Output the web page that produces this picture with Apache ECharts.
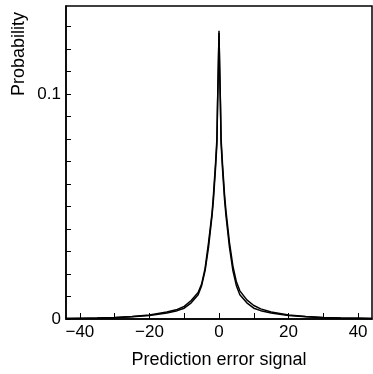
<!DOCTYPE html>
<html>
<head>
<meta charset="utf-8">
<script src="https://cdn.jsdelivr.net/npm/echarts@6/dist/echarts.min.js"></script>
<style>
  html, body { margin: 0; padding: 0; background: #fff; }
  #chart { width: 373px; height: 374px; }
</style>
</head>
<body>
<div id="chart"></div>
<script>
// prediction error values (x) and probabilities
var errors = [-44, -40, -35, -30, -25, -20, -15, -12, -10, -8, -6, -5, -4, -3, -2, -1.6, -1, -0.6, -0.4, -0.2, 0,
              0.2, 0.4, 0.6, 1, 1.6, 2, 3, 4, 5, 6, 8, 10, 12, 15, 20, 25, 30, 35, 40, 44];
var fitProb = [0.0002, 0.0003, 0.0004, 0.0006, 0.0010, 0.0016, 0.0027, 0.0037, 0.0048, 0.0072, 0.0108, 0.0148, 0.0215, 0.032, 0.046, 0.053, 0.067, 0.078, 0.096, 0.110, 0.128,
               0.110, 0.096, 0.078, 0.067, 0.053, 0.046, 0.032, 0.0215, 0.0148, 0.0108, 0.0072, 0.0048, 0.0037, 0.0027, 0.0016, 0.0010, 0.0006, 0.0004, 0.0003, 0.0002];
var dataProb = [0.0002, 0.0002, 0.0004, 0.0007, 0.0011, 0.0018, 0.0031, 0.0042, 0.0056, 0.0082, 0.0118, 0.0155, 0.0225, 0.034, 0.047, 0.055, 0.069, 0.080, 0.097, 0.112, 0.127,
                0.111, 0.097, 0.080, 0.069, 0.055, 0.048, 0.034, 0.0235, 0.0165, 0.0125, 0.0085, 0.0060, 0.0045, 0.0031, 0.0018, 0.0011, 0.0007, 0.0004, 0.0003, 0.0002];
var xTicks = [-40, -30, -20, -10, 0, 10, 20, 30, 40];
var xLabels = [-40, -20, 0, 20, 40];
var yTicks = [0, 0.01, 0.02, 0.03, 0.04, 0.05, 0.06, 0.07, 0.08, 0.09, 0.1, 0.11, 0.12, 0.13];
var yLabels = [0, 0.1];

function pairs(xs, ys) {
    var out = [];
    for (var i = 0; i < xs.length; i++) out.push([xs[i], ys[i]]);
    return out;
}

var chart = echarts.init(document.getElementById('chart'));
var font = 'Liberation Sans, Arial, Helvetica, sans-serif';

var option = {
    animation: false,
    grid: {
        left: 66, right: 1, top: 6, bottom: 49,
        show: true, borderColor: '#000', borderWidth: 1.5, backgroundColor: 'transparent'
    },
    graphic: [{
        type: 'text',
        x: 19, y: 54,
        rotation: Math.PI / 2,
        style: {
            text: 'Probability', fill: '#000', font: '18px ' + font,
            align: 'center', verticalAlign: 'middle'
        }
    }],
    xAxis: {
        type: 'value', min: -44, max: 44,
        name: 'Prediction error signal', nameLocation: 'middle', nameGap: 32,
        nameTextStyle: { color: '#000', fontSize: 18, fontFamily: font },
        splitLine: { show: false },
        axisLine: { onZero: false, lineStyle: { color: '#000', width: 1.5 } },
        axisTick: { inside: true, length: 6, customValues: xTicks, lineStyle: { color: '#000' } },
        axisLabel: {
            customValues: xLabels, color: '#000', fontSize: 17, fontFamily: font, margin: 5,
            formatter: function (v) { return String(v).replace('-', '\u2212'); }
        }
    },
    yAxis: {
        type: 'value', min: 0, max: 0.139,
        splitLine: { show: false },
        axisLine: { onZero: false, lineStyle: { color: '#000', width: 1.5 } },
        axisTick: { inside: true, length: 5, customValues: yTicks, lineStyle: { color: '#000' } },
        axisLabel: {
            customValues: yLabels, color: '#000', fontSize: 17, fontFamily: font, margin: 5,
            formatter: function (v) { return v === 0 ? '0' : String(v); }
        }
    },
    series: [{
        name: 'fit',
        type: 'line',
        showSymbol: false,
        lineStyle: { color: '#000', width: 1.5 },
        data: pairs(errors, fitProb)
    }, {
        name: 'data',
        type: 'line',
        showSymbol: false,
        lineStyle: { color: '#000', width: 1.5 },
        data: pairs(errors, dataProb)
    }]
};
chart.setOption(option);
</script>
</body>
</html>
